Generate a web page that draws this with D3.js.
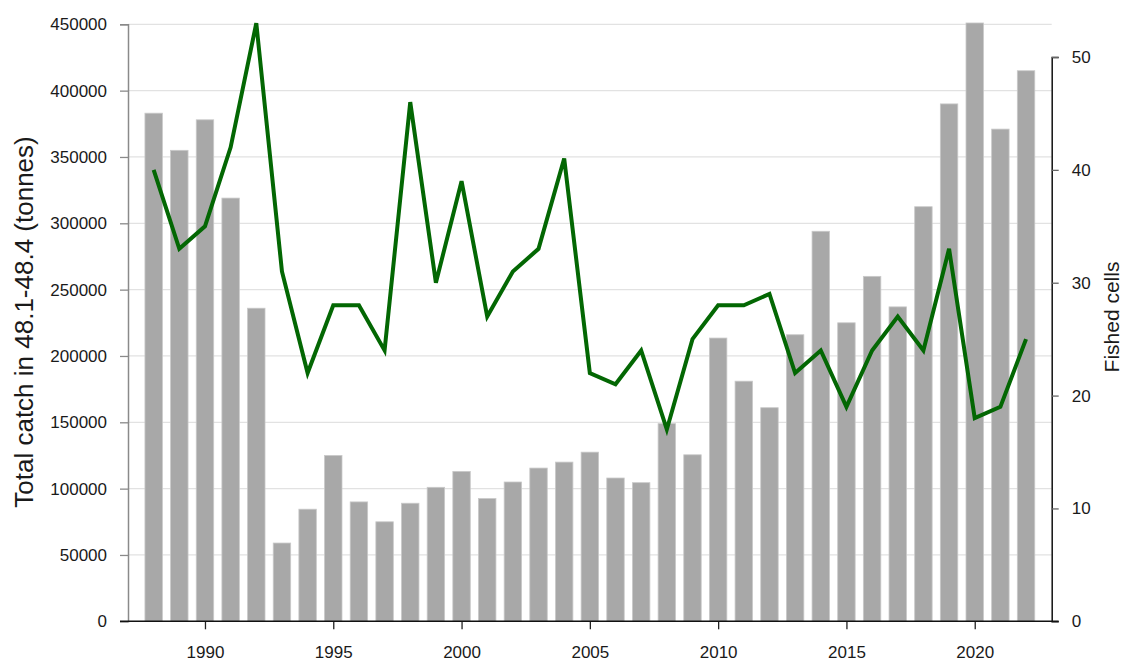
<!DOCTYPE html>
<html>
<head>
<meta charset="utf-8">
<script src="https://cdn.jsdelivr.net/npm/d3@7"></script>
<style>
  html, body { margin: 0; padding: 0; background: #fff; }
  text { font-family: Arial, "Liberation Sans", sans-serif; fill: #1a1a1a; }
</style>
</head>
<body>
<svg id="chart" width="1126" height="661"></svg>
<script>
const years = [1988,1989,1990,1991,1992,1993,1994,1995,1996,1997,1998,1999,2000,2001,2002,2003,2004,2005,2006,2007,2008,2009,2010,2011,2012,2013,2014,2015,2016,2017,2018,2019,2020,2021,2022];
const catchTonnes = [383000,355000,378000,319000,236000,59000,84500,125000,90000,75000,89000,101000,113000,92500,105000,115500,120000,127500,108000,104500,149000,125500,213500,181000,161000,216000,294000,225000,260000,237000,312500,390000,451000,371000,415000];
const fishedCells = [40,33,35,42,53,31,22,28,28,24,46,30,39,27,31,33,41,22,21,24,17,25,28,28,29,22,24,19,24,27,24,33,18,19,25];
const leftTicks = [0,50000,100000,150000,200000,250000,300000,350000,400000,450000];
const rightTicks = [0,10,20,30,40,50];
const xTicks = [1990,1995,2000,2005,2010,2015,2020];
const leftTitle = "Total catch in 48.1-48.4 (tonnes)";
const rightTitle = "Fished cells";

const svg = d3.select("#chart");
const x = d3.scaleLinear().domain([1987, 2023]).range([128, 1051.7]);
const yL = d3.scaleLinear().domain([0, 450000]).range([621.3, 24.3]);
const yR = d3.scaleLinear().domain([0, 50]).range([621.3, 57]);
const step = x(1) - x(0);
const barW = step * 0.68;

// gridlines
svg.append("g").selectAll("line").data(leftTicks.filter(d => d > 0)).join("line")
  .attr("x1", x(1987)).attr("x2", x(2023))
  .attr("y1", d => yL(d)).attr("y2", d => yL(d))
  .attr("stroke", "#e2e2e2").attr("stroke-width", 1.3);

// bars
svg.append("g").selectAll("rect").data(years).join("rect")
  .attr("x", (d) => x(d) - barW / 2)
  .attr("width", barW)
  .attr("y", (d, i) => yL(catchTonnes[i]))
  .attr("height", (d, i) => yL(0) - yL(catchTonnes[i]))
  .attr("fill", "#a8a8a8")
  .attr("stroke", "#c9c9c9").attr("stroke-width", 0.8);

// line
const line = d3.line().x((d, i) => x(years[i])).y(d => yR(d));
svg.append("path").datum(fishedCells)
  .attr("d", line)
  .attr("fill", "none")
  .attr("stroke", "#036703")
  .attr("stroke-width", 4)
  .attr("stroke-linejoin", "miter");

// left axis
const gL = svg.append("g").attr("transform", `translate(${x(1987)},0)`)
  .call(d3.axisLeft(yL).tickValues(leftTicks).tickFormat(d3.format("d")).tickSize(8).tickPadding(13));
gL.select(".domain").attr("stroke", "#8a8a8a").attr("stroke-width", 1.5);
gL.selectAll(".tick line").attr("stroke", "#8a8a8a").attr("stroke-width", 1.3);
gL.selectAll("text").style("font-size", "17px").attr("fill", "#1a1a1a");

// right axis
const gR = svg.append("g").attr("transform", `translate(${x(2023)},0)`)
  .call(d3.axisRight(yR).tickValues(rightTicks).tickSize(7).tickPadding(13));
gR.select(".domain").attr("stroke", "#111").attr("stroke-width", 1.5);
gR.selectAll(".tick line").attr("stroke", "#666").attr("stroke-width", 1.3);
gR.selectAll("text").style("font-size", "17px").attr("fill", "#1a1a1a");

// bottom axis
const gB = svg.append("g").attr("transform", `translate(0,${yL(0)})`)
  .call(d3.axisBottom(x).tickValues(xTicks).tickFormat(d3.format("d")).tickSize(8).tickPadding(17));
gB.select(".domain").remove();
gB.append("line").attr("x1", x(1987) - 8).attr("x2", x(2023) + 7).attr("y1", 0).attr("y2", 0)
  .attr("stroke", "#111").attr("stroke-width", 1.5);
gB.selectAll(".tick line").attr("stroke", "#222").attr("stroke-width", 1.3);
gB.selectAll("text").style("font-size", "17px").attr("fill", "#1a1a1a");

// titles
svg.append("text")
  .attr("transform", `translate(33,${322}) rotate(-90)`)
  .attr("text-anchor", "middle")
  .style("font-size", "26px")
  .text(leftTitle);
svg.append("text")
  .attr("transform", `translate(1119,${317}) rotate(-90)`)
  .attr("text-anchor", "middle")
  .style("font-size", "21px")
  .text(rightTitle);
</script>
</body>
</html>
